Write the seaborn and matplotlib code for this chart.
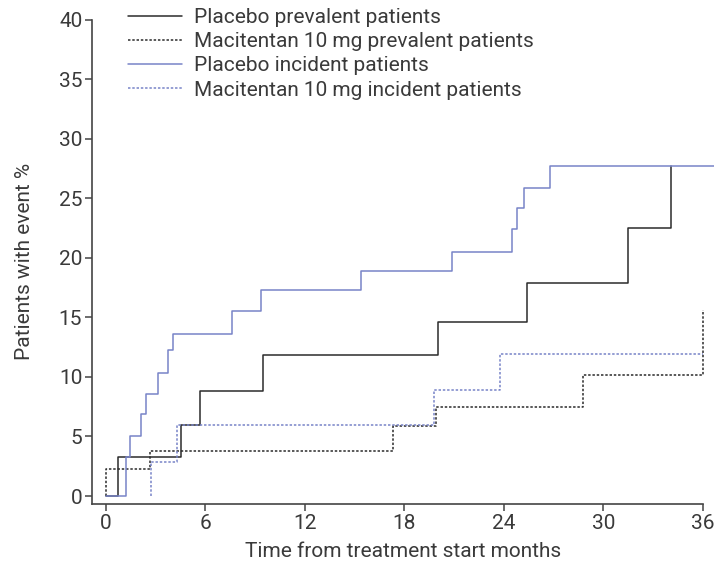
import matplotlib
matplotlib.use("Agg")
import matplotlib.pyplot as plt
import seaborn as sns
import pandas as pd

# Data (months, % patients with event)
pp_t = [0, 0.74, 4.5, 5.67, 9.45, 20.04, 25.4, 31.46, 34.1]
pp_v = [0, 3.25, 6.0, 8.8, 11.8, 14.6, 17.9, 22.5, 27.7]

mp_t = [0, 0, 2.65, 17.3, 19.88, 28.75, 36.0]
mp_v = [0, 2.27, 3.8, 5.9, 7.5, 10.2, 15.6]

pi_t = [0, 1.2, 1.45, 2.11, 2.39, 3.12, 3.76, 4.04, 7.58, 9.33, 15.36, 20.89,
        24.47, 24.77, 25.21, 26.78, 36.7]
pi_v = [0, 3.3, 5.05, 6.85, 8.6, 10.35, 12.25, 13.6, 15.5, 17.3, 18.9, 20.45,
        22.4, 24.2, 25.85, 27.7, 27.7]

mi_t = [2.69, 2.69, 4.26, 19.78, 23.76, 36.0]
mi_v = [0, 2.85, 5.96, 8.9, 11.9, 11.9]

labels = ["Placebo prevalent patients",
          "Macitentan 10 mg prevalent patients",
          "Placebo incident patients",
          "Macitentan 10 mg incident patients"]
x_ticks = [0, 6, 12, 18, 24, 30, 36]
y_ticks = [0, 5, 10, 15, 20, 25, 30, 35, 40]

sns.set_style("ticks")
plt.rcParams['font.family'] = ['Roboto', 'DejaVu Sans']

TXT = "#3a3a3a"
BLACK = "#2b2b2b"
BLUE = "#7884c8"
dotted = (0, (1.6, 1.2))
FS = 15

W, H = 714, 566
fig = plt.figure(figsize=(W / 100, H / 100), dpi=100)
left, right, top, bottom = 92, 714, 19.5, 504
ax = fig.add_axes([left / W, (H - bottom) / H, (right - left) / W, (bottom - top) / H])

series = [
    (pp_t, pp_v, BLACK, "-"),
    (mp_t, mp_v, BLACK, dotted),
    (pi_t, pi_v, BLUE, "-"),
    (mi_t, mi_v, BLUE, dotted),
]
for (t, v, c, ls), lab in zip(series, labels):
    df = pd.DataFrame({"t": t, "v": v})
    sns.lineplot(data=df, x="t", y="v", ax=ax, color=c, linestyle=ls,
                 drawstyle="steps-post", estimator=None, sort=False,
                 linewidth=1.1, label=lab)

ax.set_xlim(-0.84, 36.67)
ax.set_ylim(-0.67, 40)
ax.set_xticks(x_ticks)
ax.set_yticks(y_ticks)
ax.spines['top'].set_visible(False)
ax.spines['right'].set_visible(False)
ax.spines['bottom'].set_bounds(-0.84, 36)
for s in ['left', 'bottom']:
    ax.spines[s].set_color("#444444")
    ax.spines[s].set_linewidth(1.2)
ax.tick_params(axis='both', length=5, width=1.1, color="#444444",
               labelsize=FS, labelcolor=TXT, pad=2)
ax.set_xlabel("Time from treatment start months", fontsize=FS, color=TXT, labelpad=7)
ax.set_ylabel("Patients with event %", fontsize=FS, color=TXT, labelpad=18)

leg = ax.legend(loc="upper left", bbox_to_anchor=(128 / W, 1 - 8 / H),
                bbox_transform=fig.transFigure, frameon=False, fontsize=FS,
                handlelength=2.6, handletextpad=0.55, labelspacing=0.25,
                borderaxespad=0, borderpad=0)
for t in leg.get_texts():
    t.set_color(TXT)

fig.savefig("out.png", dpi=100)
